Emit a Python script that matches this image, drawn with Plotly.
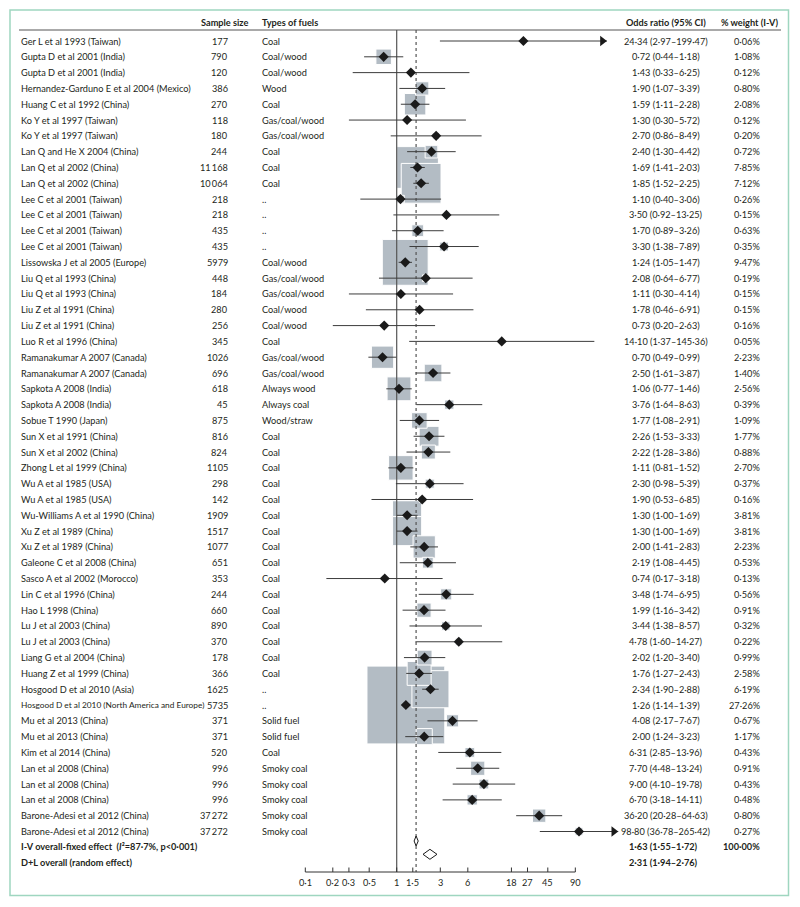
import math
import plotly.graph_objects as go

# ---------------- data ----------------
studies = [
    "Ger L et al 1993 (Taiwan)", "Gupta D et al 2001 (India)", "Gupta D et al 2001 (India)",
    "Hernandez-Garduno E et al 2004 (Mexico)", "Huang C et al 1992 (China)", "Ko Y et al 1997 (Taiwan)",
    "Ko Y et al 1997 (Taiwan)", "Lan Q and He X 2004 (China)", "Lan Q et al 2002 (China)",
    "Lan Q et al 2002 (China)", "Lee C et al 2001 (Taiwan)", "Lee C et al 2001 (Taiwan)",
    "Lee C et al 2001 (Taiwan)", "Lee C et al 2001 (Taiwan)", "Lissowska J et al 2005 (Europe)",
    "Liu Q et al 1993 (China)", "Liu Q et al 1993 (China)", "Liu Z et al 1991 (China)",
    "Liu Z et al 1991 (China)", "Luo R et al 1996 (China)", "Ramanakumar A 2007 (Canada)",
    "Ramanakumar A 2007 (Canada)", "Sapkota A 2008 (India)", "Sapkota A 2008 (India)",
    "Sobue T 1990 (Japan)", "Sun X et al 1991 (China)", "Sun X et al 2002 (China)",
    "Zhong L et al 1999 (China)", "Wu A et al 1985 (USA)", "Wu A et al 1985 (USA)",
    "Wu-Williams A et al 1990 (China)", "Xu Z et al 1989 (China)", "Xu Z et al 1989 (China)",
    "Galeone C et al 2008 (China)", "Sasco A et al 2002 (Morocco)", "Lin C et al 1996 (China)",
    "Hao L 1998 (China)", "Lu J et al 2003 (China)", "Lu J et al 2003 (China)",
    "Liang G et al 2004 (China)", "Huang Z et al 1999 (China)", "Hosgood D et al 2010 (Asia)",
    "Hosgood D et al 2010 (North America and Europe)", "Mu et al 2013 (China)", "Mu et al 2013 (China)",
    "Kim et al 2014 (China)", "Lan et al 2008 (China)", "Lan et al 2008 (China)",
    "Lan et al 2008 (China)", "Barone-Adesi et al 2012 (China)", "Barone-Adesi et al 2012 (China)",
]
sample_sizes = [177, 790, 120, 386, 270, 118, 180, 244, 11168, 10064, 218, 218, 435, 435, 5979,
                448, 184, 280, 256, 345, 1026, 696, 618, 45, 875, 816, 824, 1105, 298, 142,
                1909, 1517, 1077, 651, 353, 244, 660, 890, 370, 178, 366, 1625, 5735, 371, 371,
                520, 996, 996, 996, 37272, 37272]
fuels = ["Coal", "Coal/wood", "Coal/wood", "Wood", "Coal", "Gas/coal/wood", "Gas/coal/wood", "Coal",
         "Coal", "Coal", "..", "..", "..", "..", "Coal/wood", "Gas/coal/wood", "Gas/coal/wood",
         "Coal/wood", "Coal/wood", "Coal", "Gas/coal/wood", "Gas/coal/wood", "Always wood",
         "Always coal", "Wood/straw", "Coal", "Coal", "Coal", "Coal", "Coal", "Coal", "Coal", "Coal",
         "Coal", "Coal", "Coal", "Coal", "Coal", "Coal", "Coal", "Coal", "..", "..", "Solid fuel",
         "Solid fuel", "Coal", "Smoky coal", "Smoky coal", "Smoky coal", "Smoky coal", "Smoky coal"]
odds_ratio = [24.34, 0.72, 1.43, 1.90, 1.59, 1.30, 2.70, 2.40, 1.69, 1.85, 1.10, 3.50, 1.70, 3.30,
              1.24, 2.08, 1.11, 1.78, 0.73, 14.10, 0.70, 2.50, 1.06, 3.76, 1.77, 2.26, 2.22, 1.11,
              2.30, 1.90, 1.30, 1.30, 2.00, 2.19, 0.74, 3.48, 1.99, 3.44, 4.78, 2.02, 1.76, 2.34,
              1.26, 4.08, 2.00, 6.31, 7.70, 9.00, 6.70, 36.20, 98.80]
ci_low = [2.97, 0.44, 0.33, 1.07, 1.11, 0.30, 0.86, 1.30, 1.41, 1.52, 0.40, 0.92, 0.89, 1.38,
          1.05, 0.64, 0.30, 0.46, 0.20, 1.37, 0.49, 1.61, 0.77, 1.64, 1.08, 1.53, 1.28, 0.81,
          0.98, 0.53, 1.00, 1.00, 1.41, 1.08, 0.17, 1.74, 1.16, 1.38, 1.60, 1.20, 1.27, 1.90,
          1.14, 2.17, 1.24, 2.85, 4.48, 4.10, 3.18, 20.28, 36.78]
ci_high = [199.47, 1.18, 6.25, 3.39, 2.28, 5.72, 8.49, 4.42, 2.03, 2.25, 3.06, 13.25, 3.26, 7.89,
           1.47, 6.77, 4.14, 6.91, 2.63, 145.36, 0.99, 3.87, 1.46, 8.63, 2.91, 3.33, 3.86, 1.52,
           5.39, 6.85, 1.69, 1.69, 2.83, 4.45, 3.18, 6.95, 3.42, 8.57, 14.27, 3.40, 2.43, 2.88,
           1.39, 7.67, 3.23, 13.96, 13.24, 19.78, 14.11, 64.63, 265.42]
weights = [0.06, 1.08, 0.12, 0.80, 2.08, 0.12, 0.20, 0.72, 7.85, 7.12, 0.26, 0.15, 0.63, 0.35,
           9.47, 0.19, 0.15, 0.15, 0.16, 0.05, 2.23, 1.40, 2.56, 0.39, 1.09, 1.77, 0.88, 2.70,
           0.37, 0.16, 3.81, 3.81, 2.23, 0.53, 0.13, 0.56, 0.91, 0.32, 0.22, 0.99, 2.58, 6.19,
           27.26, 0.67, 1.17, 0.43, 0.91, 0.43, 0.48, 0.80, 0.27]
arrow_flags = [True] + [False] * 49 + [True]

fixed_effect = (1.63, 1.55, 1.72)
random_effect = (2.31, 1.94, 2.76)
i_squared = 87.7
tick_values = [0.1, 0.2, 0.3, 0.5, 1, 1.5, 3, 6, 18, 27, 45, 90]
tick_labels = ["0·1", "0·2", "0·3", "0·5", "1", "1·5", "3", "6", "18", "27", "45", "90"]

# ---------------- layout geometry ----------------
W, H = 800, 907
X1_PX, PX_DEC = 396.7, 91.4          # pixel of OR=1, pixels per decade
ROW0_PX, ROW_PX = 41.0, 15.81        # pixel of first row, row spacing
x_range = [(0 - X1_PX) / PX_DEC, (W - X1_PX) / PX_DEC]
y_range = [(H - ROW0_PX) / ROW_PX, (0 - ROW0_PX) / ROW_PX]


def prow(py):
    return (py - ROW0_PX) / ROW_PX


def px(x):
    return x / W


FONT = "Lato, Roboto, sans-serif"
TXT = "#231f20"
FS = 9.2
n = len(studies)
rows = list(range(n))


def fmt(v):
    return f"{v:.2f}".replace(".", "·")


def fmt_n(v):
    s = str(v)
    if v >= 10000:
        s = s[:-3] + "\u2009" + s[-3:]
    return s


fig = go.Figure()

# reference lines
top_row = prow(30)
axis_row = prow(872)
fig.add_trace(go.Scatter(x=[1, 1], y=[top_row, axis_row], mode="lines",
                         line=dict(color="#555555", width=1.2), hoverinfo="skip"))
fig.add_trace(go.Scatter(x=[fixed_effect[0]] * 2, y=[top_row, axis_row], mode="lines",
                         line=dict(color="#555555", width=1.2, dash="dot"), hoverinfo="skip"))

# CI lines
cx, cy = [], []
for i in rows:
    cx += [ci_low[i], ci_high[i], None]
    cy += [i, i, None]
fig.add_trace(go.Scatter(x=cx, y=cy, mode="lines", line=dict(color="#3c3c3c", width=1),
                         hoverinfo="skip"))

# arrows
ax_, ay_ = [], []
for i in rows:
    if arrow_flags[i]:
        ax_.append(10 ** (math.log10(ci_high[i]) - 4.5 / PX_DEC))
        ay_.append(i)
fig.add_trace(go.Scatter(x=ax_, y=ay_, mode="markers",
                         marker=dict(symbol="triangle-right", size=9, color="#1a1a1a"),
                         hoverinfo="skip"))

# point estimates
fig.add_trace(go.Scatter(x=odds_ratio, y=rows, mode="markers",
                         marker=dict(symbol="diamond", size=7.8, color="#1a1a1a", line=dict(width=0)),
                         hoverinfo="skip"))

# summary diamonds
for (est, lo, hi), py in [(fixed_effect, 841), (random_effect, 854.3)]:
    r = prow(py)
    h = 5 / ROW_PX
    fig.add_trace(go.Scatter(x=[lo, est, hi, est, lo], y=[r, r - h, r, r + h, r], mode="lines",
                             fill="toself", fillcolor="white", line=dict(color="#1a1a1a", width=1),
                             hoverinfo="skip"))

# x axis
fig.add_trace(go.Scatter(x=[tick_values[0], tick_values[-1]], y=[axis_row, axis_row], mode="lines",
                         line=dict(color="#333333", width=1), hoverinfo="skip"))
tx, ty = [], []
for t in tick_values:
    tx += [t, t, None]
    ty += [axis_row, axis_row - 4.5 / ROW_PX, None]
fig.add_trace(go.Scatter(x=tx, y=ty, mode="lines", line=dict(color="#333333", width=1),
                         hoverinfo="skip"))

shapes = []
# weight boxes (largest first so small ones sit on top)
K = 14.9
for i in sorted(rows, key=lambda j: -weights[j]):
    half = K * math.sqrt(weights[i]) / 2
    lx = math.log10(odds_ratio[i])
    shapes.append(dict(type="rect", xref="x", yref="y", layer="below",
                       x0=10 ** (lx - half / PX_DEC), x1=10 ** (lx + half / PX_DEC),
                       y0=i - half / ROW_PX, y1=i + half / ROW_PX,
                       fillcolor="#b3bcc4", line=dict(color="white", width=1)))
# header rule
shapes.append(dict(type="line", xref="paper", yref="y", x0=px(19), x1=px(781), y0=top_row, y1=top_row,
                   line=dict(color="#555555", width=1)))
# frame
shapes.append(dict(type="rect", xref="paper", yref="paper", x0=px(10), x1=px(788.5),
                   y0=1 - 895.5 / H, y1=1 - 10 / H, line=dict(color="#9fd6c0", width=1.5),
                   fillcolor="rgba(0,0,0,0)"))

ann = []


def add(text, x_px, row, anchor, bold=False, size=FS):
    t = f"<b>{text}</b>" if bold else text
    ann.append(dict(text=t, x=px(x_px), y=row, xref="paper", yref="y", xanchor=anchor,
                    yanchor="middle", showarrow=False, font=dict(family=FONT, size=size, color=TXT)))


head_row = prow(22.7)
add("Sample size", 250, head_row, "right", True)
add("Types of fuels", 260.3, head_row, "left", True)
add("Odds ratio (95% CI)", 665.5, head_row, "center", True)
add("% weight (I-V)", 781, head_row, "right", True)

for i in rows:
    name_size = FS if len(studies[i]) <= 40 else 8.3
    add(studies[i], 19, i, "left", size=name_size)
    add(fmt_n(sample_sizes[i]), 229.5, i, "right")
    add(fuels[i], 260.3, i, "left")
    add(f"{fmt(odds_ratio[i])} ({fmt(ci_low[i])}–{fmt(ci_high[i])})", 666, i, "center")
    add(f"{fmt(weights[i])}%", 762, i, "right")

r_fixed = prow(846.5)
r_rand = prow(862.5)
add(f"I-V overall-fixed effect  (<i>I</i>²={str(i_squared).replace('.', '·')}%, p&lt;0·001)",
    19, r_fixed, "left", True)
add("D+L overall (random effect)", 19, r_rand, "left", True)
add(f"{fmt(fixed_effect[0])} ({fmt(fixed_effect[1])}–{fmt(fixed_effect[2])})", 663, r_fixed, "center", True)
add("100·00%", 762, r_fixed, "right", True)
add(f"{fmt(random_effect[0])} ({fmt(random_effect[1])}–{fmt(random_effect[2])})", 663, r_rand, "center", True)

tick_row = prow(882)
for t, lab in zip(tick_values, tick_labels):
    ann.append(dict(text=lab, x=math.log10(t), y=tick_row, xref="x", yref="y", xanchor="center",
                    yanchor="middle", showarrow=False, font=dict(family=FONT, size=FS, color=TXT)))

fig.update_layout(
    width=W, height=H, margin=dict(l=0, r=0, t=0, b=0),
    paper_bgcolor="white", plot_bgcolor="white", showlegend=False,
    xaxis=dict(type="log", range=x_range, visible=False, fixedrange=True),
    yaxis=dict(range=y_range, visible=False, fixedrange=True),
    shapes=shapes, annotations=ann,
)
fig.write_html("out.html", config={"displayModeBar": False},
               post_script="document.body.style.margin='0px';")
